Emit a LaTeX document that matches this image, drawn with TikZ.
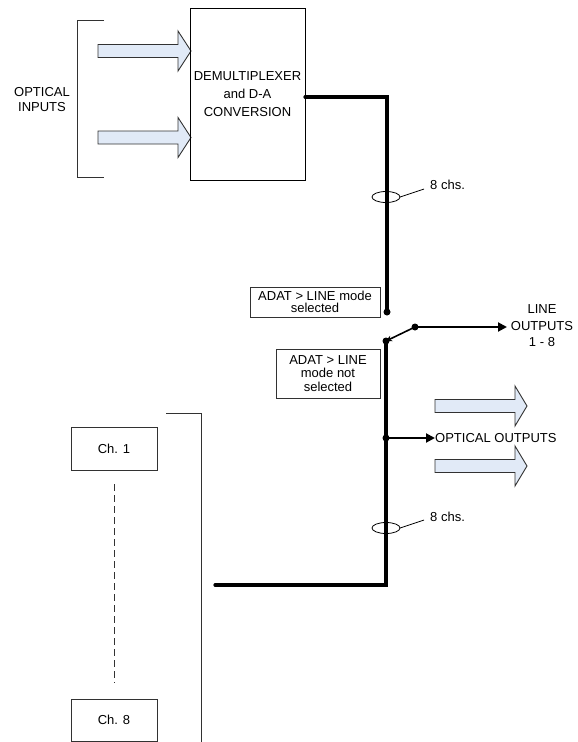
\documentclass[tikz,border=0pt]{standalone}
\usepackage{fontspec}
\setmainfont{Liberation Sans}
\usetikzlibrary{arrows.meta}
\definecolor{arrowfill}{RGB}{225,234,247}
\definecolor{edgegray}{RGB}{50,50,50}
\tikzset{
  txt/.style={font=\fontsize{13}{13}\selectfont, inner sep=0pt, align=center},
  labelbox/.style={draw=edgegray, line width=0.8pt, font=\fontsize{13}{12.5}\selectfont, inner sep=0pt, align=center},
  blockbox/.style={draw=black, line width=0.9pt, font=\fontsize{13}{18}\selectfont, inner sep=0pt, align=center},
  thickline/.style={line width=3.2pt, line cap=round, line join=miter},
  thinline/.style={draw=edgegray, line width=0.9pt},
  fatarrow/.style={draw=edgegray, fill=arrowfill, line width=0.9pt, line join=miter},
  junct/.style={circle, fill=black, inner sep=0pt, minimum size=7pt},
  sigarrow/.style={line width=2pt, -{Triangle[length=9pt,width=9pt]}},
  bundle/.style={draw=black, line width=0.8pt},
}
\newcommand{\fatarr}[4]{% x0, xhead, xtip, ycenter
  \draw[fatarrow] (#1,#4-6.5) -- (#2,#4-6.5) -- (#2,#4-20) -- (#3,#4) -- (#2,#4+20) -- (#2,#4+6.5) -- (#1,#4+6.5) -- cycle;}
\begin{document}
\begin{tikzpicture}[x=1pt,y=-1pt]
\useasboundingbox (0,0) rectangle (578,742);

% input bracket
\draw[thinline] (104,20) -- (77,20) -- (77,177) -- (104,177);
\node[txt] (optin) at (42,100) {OPTICAL\\[2pt]INPUTS};
\fatarr{98}{178}{191}{51}
\fatarr{98}{178}{191}{137.5}

% demux block
\node[blockbox, minimum width=115pt, minimum height=172pt] (demux) at (247.5,94) {DEMULTIPLEXER\\and D-A\\CONVERSION};

% switch contacts
\node[junct] (upper) at (387,312) {};
\node[junct] (lower) at (386,341) {};
\node[junct] (arm) at (415,327) {};
\node[junct] (tap) at (386,438) {};
\coordinate (corner1) at (387,97);
\coordinate (corner2) at (386,585);
\coordinate (busend) at (215,585);
\coordinate (demuxout) at (305,97);

% thick bus
\draw[thickline] (demuxout) -- (corner1) -- (upper.center);
\draw[thickline] (lower.center) -- (corner2) -- (busend);

% switch arm
\draw[line width=1.6pt, -{Stealth[length=6pt,width=6pt]}] (arm.center) -- (lower.center);
\node[txt] (lineout) at (542,326) {LINE\\[4pt]OUTPUTS\\[3pt]1 - 8};
\coordinate (lineouttip) at (507,327);
\draw[sigarrow] (arm.center) -- (lineouttip);

% optical outputs
\node[txt, anchor=west] (optout) at (435,438) {OPTICAL OUTPUTS};
\draw[sigarrow] (tap.center) -- (optout.west);
\fatarr{435}{515}{527}{406}
\fatarr{435}{515}{527}{466}

% bundle markers
\draw[bundle] (386,197) ellipse [x radius=14pt, y radius=5.5pt];
\node[txt, anchor=west] (chs1) at (430,185) {8 chs.};
\draw[bundle] (400,197) -- (424,189);
\draw[bundle] (386,528) ellipse [x radius=14pt, y radius=5.5pt];
\node[txt, anchor=west] (chs2) at (430,517) {8 chs.};
\draw[bundle] (400,528) -- (424,520);

% mode labels
\node[labelbox, minimum width=130pt, minimum height=30pt] (sel) at (315,302) {ADAT > LINE mode\\selected};
\node[labelbox, minimum width=104pt, minimum height=49pt] (notsel) at (328,373.5) {ADAT > LINE\\[1pt]mode not\\[1pt]selected};

% channel strip
\draw[thinline] (166,413) -- (201,413) -- (201,742);
\node[labelbox, minimum width=86pt, minimum height=43pt] (ch1) at (114,448.5) {Ch. 1};
\node[labelbox, minimum width=86pt, minimum height=42pt] (ch8) at (114,720) {Ch. 8};
\draw[thinline, dash pattern=on 7pt off 4pt] (114,484) -- (114,683);
\end{tikzpicture}
\end{document}
